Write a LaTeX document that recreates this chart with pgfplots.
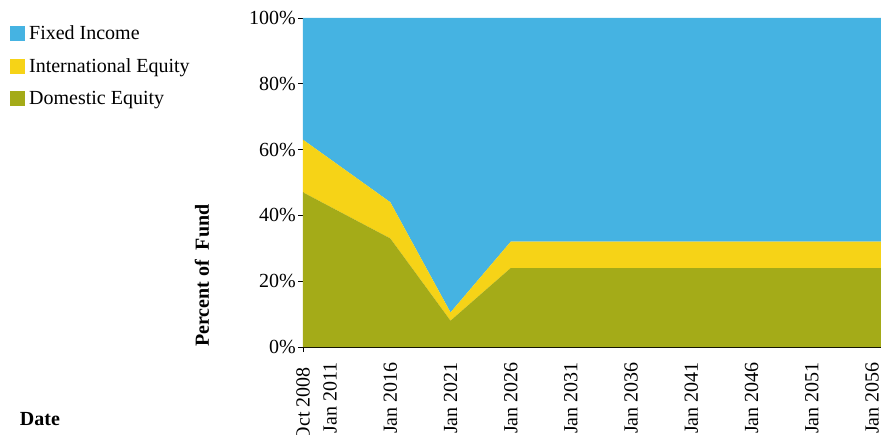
\documentclass[border=0pt]{standalone}
\usepackage{fontspec}
\setmainfont{Liberation Serif}
\usepackage{pgfplots}
\pgfplotsset{compat=1.18}
\definecolor{cFixed}{RGB}{69,179,226}
\definecolor{cIntl}{RGB}{246,211,23}
\definecolor{cDom}{RGB}{164,171,24}
\pgfplotstableread{
x dom intl fixed
2008.75 47 16 37
2016.0 33 11 56
2021.0 8 2.5 89.5
2026.0 24 8 68
2056.75 24 8 68
}\datatable
\begin{document}
\begin{tikzpicture}[font=\fontsize{20}{24}\selectfont]
\useasboundingbox (0,0) rectangle (881pt,434pt);
\clip (0,0) rectangle (881pt,434pt);
\begin{axis}[
  at={(303pt,87pt)}, anchor=south west,
  scale only axis, width=578pt, height=329pt,
  xmin=2008.75, xmax=2056.75, ymin=0, ymax=100,
  stack plots=y,
  axis lines*=left,
  axis line style={black, line width=0.8pt},
  ytick={0,20,40,60,80,100},
  yticklabel={\pgfmathprintnumber{\tick}\%},
  /pgf/number format/assume math mode=true,
  tick label style={font=\fontsize{20}{24}\selectfont},
  yticklabel style={inner sep=2pt},
  ytick align=outside, major tick length=5pt,
  ytick style={black, line width=0.8pt},
  xtick={2011,2016,2021,2026,2031,2036,2041,2046,2051,2056},
  xticklabels={Jan 2011,Jan 2016,Jan 2021,Jan 2026,Jan 2031,Jan 2036,Jan 2041,Jan 2046,Jan 2051,Jan 2056},
  xtick style={draw=none},
  extra x ticks={2008.75},
  extra x tick labels={Oct 2008},
  extra x tick style={xtick style={draw=black, line width=0.8pt}, xtick align=outside},
  xticklabel style={rotate=90, anchor=east, inner sep=0pt},
  xticklabel shift=15pt,
  ylabel={\textbf{Percent of\ \ Fund}},
  ylabel style={at={(axis description cs:-0.175,0)}, anchor=west, inner sep=0pt, rotate=0},
  xlabel={\textbf{Date}},
  xlabel style={at={(axis description cs:-0.49,-0.219)}, anchor=west, inner sep=0pt},
  reverse legend,
  legend cell align=left,
  legend style={at={(axis description cs:-0.507,0.976)}, anchor=north west, draw=none, fill=none,
    font=\fontsize{20}{24}\selectfont, row sep=17pt, inner sep=0pt,
    nodes={inner sep=0pt, outer sep=0pt}},
  legend image code/.code={\fill[#1] (0pt,-7.5pt) rectangle (15pt,7.5pt);},
  legend style={column sep=4pt},
]
\addplot[fill=cDom, draw=none] table[x=x,y=dom]{\datatable} \closedcycle;
\addlegendentry{Domestic Equity}
\addplot[fill=cIntl, draw=none] table[x=x,y=intl]{\datatable} \closedcycle;
\addlegendentry{International Equity}
\addplot[fill=cFixed, draw=none] table[x=x,y=fixed]{\datatable} \closedcycle;
\addlegendentry{Fixed Income}
\end{axis}
\end{tikzpicture}
\end{document}
